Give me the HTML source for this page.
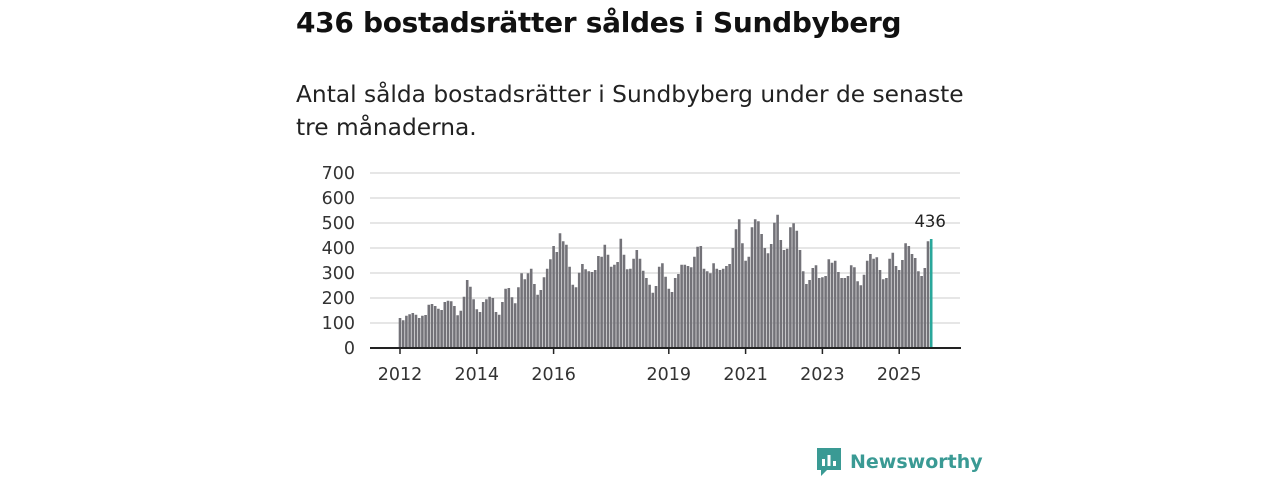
<!DOCTYPE html>
<html><head><meta charset="utf-8">
<style>
body{margin:0;width:1280px;height:480px;background:#fff;font-family:"Liberation Sans","DejaVu Sans",sans-serif;overflow:hidden;position:relative}
h1{position:absolute;left:296px;top:6px;margin:0;font-size:28px;font-weight:bold;color:#111;font-family:"DejaVu Sans","Liberation Sans",sans-serif;letter-spacing:-0.3px}
.sub{position:absolute;left:296px;top:78px;margin:0;font-size:23.3px;line-height:33px;color:#222;font-family:"DejaVu Sans","Liberation Sans",sans-serif;width:720px}
svg{position:absolute;left:0;top:0}
.logo{position:absolute;left:815px;top:446px;display:flex;align-items:center;gap:7px;color:#3a9a94;font-size:19px;font-weight:bold;font-family:"DejaVu Sans","Liberation Sans",sans-serif}
</style></head><body>
<h1>436 bostadsrätter såldes i Sundbyberg</h1>
<p class="sub">Antal sålda bostadsrätter i Sundbyberg under de senaste<br>tre månaderna.</p>
<svg id="chart" width="1280" height="480"></svg>
<div class="logo">
<svg width="28" height="32" viewBox="0 0 28 32" style="position:static"><path d="M2 2h24v22H12l-6 6v-6H2z" fill="#3a9a94"/><rect x="7" y="13" width="3" height="7" fill="#fff"/><rect x="12.5" y="9" width="3" height="11" fill="#fff"/><rect x="18" y="15" width="3" height="5" fill="#fff"/></svg>
<span>Newsworthy</span></div>
<script>
const values=[120,111,129,135,140,133,120,129,132,173,176,168,
157,152,184,189,187,168,131,149,205,272,245,195,
155,144,184,195,205,200,144,133,184,237,240,203,
179,243,299,275,299,317,256,213,232,283,317,355,
408,384,459,427,413,325,253,243,301,336,315,307,
304,312,368,365,413,373,325,333,344,437,373,315,
317,357,392,357,309,280,253,221,248,325,339,285,
237,224,280,296,333,333,328,323,365,405,408,317,307,299,339,317,312,317,328,336,400,475,515,419,349,365,483,515,507,456,400,379,416,501,533,432,392,397,483,499,469,392,307,256,272,320,331,280,283,288,355,341,349,304,280,280,288,331,323,267,251,293,349,376,357,363,312,275,280,357,381,328,312,352,419,408,376,360,307,288,320,427,436];
const yTicks=[0,100,200,300,400,500,600,700];
const xYears=[2012,2014,2016,2019,2021,2023,2025];
const svg=document.getElementById('chart');
const NS='http://www.w3.org/2000/svg';
const X0=400,STEP=3.2,Y0=348,PX=0.25;
const x=i=>X0+i*STEP, y=v=>Y0-v*PX;
function mk(t,a){const e=document.createElementNS(NS,t);for(const k in a)e.setAttribute(k,a[k]);svg.appendChild(e);return e;}
yTicks.forEach(t=>{
 if(t>0){const g=mk('line',{x1:370,x2:960,y1:y(t),y2:y(t),stroke:'#ddd','stroke-width':1.5});
 
 }
 const l=mk('text',{x:355,y:y(t)+6,'text-anchor':'end','font-size':17.5,fill:'#333','font-family':'DejaVu Sans, Liberation Sans, sans-serif'});
 l.textContent=t;
 
 
});
values.forEach((v,i)=>{
 const last=i===values.length-1;
 const r=mk('rect',{x:x(i)-1.3,y:y(v),width:2.6,height:v*PX,fill:last?'#2aa79b':'#737278'});
 
 
});
const li=values.length-1;
const lab=mk('text',{x:x(li)-1,y:y(values[li])-12,'text-anchor':'middle','font-size':16.5,fill:'#222','font-family':'DejaVu Sans, Liberation Sans, sans-serif'});
lab.textContent=values[li];


const ax=mk('line',{x1:370,x2:961,y1:Y0,y2:Y0,stroke:'#222','stroke-width':2});


xYears.forEach(yr=>{
 const xi=x((yr-2012)*12);
 const t=mk('line',{x1:xi,x2:xi,y1:Y0,y2:Y0+6,stroke:'#222','stroke-width':1.5});
 
 
 const l=mk('text',{x:xi,y:380,'text-anchor':'middle','font-size':17.5,fill:'#333','font-family':'DejaVu Sans, Liberation Sans, sans-serif'});
 l.textContent=yr;
 
 
});
</script>
</body></html>
